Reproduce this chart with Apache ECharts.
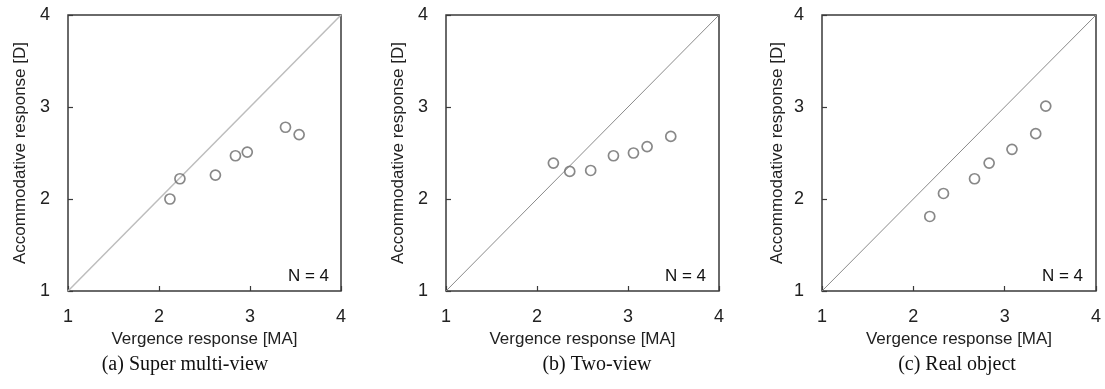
<!DOCTYPE html>
<html>
<head>
<meta charset="utf-8">
<script src="https://cdn.jsdelivr.net/npm/echarts@6/dist/echarts.min.js"></script>
<style>
html,body{margin:0;padding:0;background:#fff;}
#chart{width:1105px;height:389px;}
</style>
</head>
<body>
<div id="chart"></div>
<script>
// ---- data ----
const panelCaptions = ['(a) Super multi-view', '(b) Two-view', '(c) Real object'];
const xAxisTitle = 'Vergence response [MA]';
const yAxisTitle = 'Accommodative response [D]';
const noteText = 'N = 4';
const axisTicks = [1, 2, 3, 4];
const diagonal = [1, 4];

const superMultiViewX = [2.12, 2.23, 2.62, 2.84, 2.97, 3.39, 3.54];
const superMultiViewY = [2.00, 2.22, 2.26, 2.47, 2.51, 2.78, 2.70];

const twoViewX = [2.18, 2.36, 2.59, 2.84, 3.06, 3.21, 3.47];
const twoViewY = [2.39, 2.30, 2.31, 2.47, 2.50, 2.57, 2.68];

const realObjectX = [2.18, 2.33, 2.67, 2.83, 3.08, 3.34, 3.45];
const realObjectY = [1.81, 2.06, 2.22, 2.39, 2.54, 2.71, 3.01];

// ---- layout ----
const panels = [
  {x: superMultiViewX, y: superMultiViewY, left: 68, width: 273, yGap: 39, diagColor: '#bdbdbd', diagWidth: 1.5, capX: 185, noteX: 329},
  {x: twoViewX, y: twoViewY, left: 446, width: 273, yGap: 39, diagColor: '#8a8a8a', diagWidth: 1, capX: 597, noteX: 706},
  {x: realObjectX, y: realObjectY, left: 822, width: 274, yGap: 36, diagColor: '#8a8a8a', diagWidth: 1, capX: 957, noteX: 1083}
];
const TOP = 15, HEIGHT = 276;
const FONT = '"Liberation Sans", Arial, sans-serif';
const SERIF = '"Liberation Serif", "Times New Roman", serif';

const grid = [], xAxis = [], yAxis = [], series = [], graphic = [];
panels.forEach((p, i) => {
  grid.push({left: p.left, top: TOP, width: p.width, height: HEIGHT, show: true,
    borderColor: '#3a3a3a', borderWidth: 1.5, backgroundColor: 'transparent'});
  const axisCommon = {
    gridIndex: i, type: 'value', min: axisTicks[0], max: axisTicks[axisTicks.length - 1], interval: 1,
    splitLine: {show: false},
    axisLine: {show: false},
    axisTick: {show: true, inside: true, length: 5, lineStyle: {color: '#3a3a3a', width: 1.2}},
    axisLabel: {fontSize: 18, color: '#222', fontFamily: FONT},
    nameLocation: 'middle',
    nameTextStyle: {fontSize: 17, color: '#222', fontFamily: FONT}
  };
  xAxis.push(Object.assign({}, axisCommon, {name: xAxisTitle, nameGap: 37,
    axisLabel: Object.assign({}, axisCommon.axisLabel, {margin: 17})}));
  yAxis.push(Object.assign({}, axisCommon, {name: yAxisTitle, nameGap: p.yGap,
    axisLabel: Object.assign({}, axisCommon.axisLabel, {margin: 18})}));
  series.push({
    type: 'line', xAxisIndex: i, yAxisIndex: i, symbol: 'none', silent: true,
    data: [[diagonal[0], diagonal[0]], [diagonal[1], diagonal[1]]],
    lineStyle: {color: p.diagColor, width: p.diagWidth}, z: 1
  });
  series.push({
    type: 'scatter', xAxisIndex: i, yAxisIndex: i, symbol: 'circle', symbolSize: 10,
    data: p.x.map((v, k) => [v, p.y[k]]),
    itemStyle: {color: 'rgba(255,255,255,0)', borderColor: '#6a6a6a', borderWidth: 1.7}, z: 3
  });
  graphic.push({type: 'text', x: p.noteX, y: 276,
    style: {text: noteText, font: '17px ' + FONT, fill: '#111', textAlign: 'right', textVerticalAlign: 'middle'}});
  graphic.push({type: 'text', x: p.capX, y: 365,
    style: {text: panelCaptions[i], font: '20px ' + SERIF, fill: '#111', textAlign: 'center', textVerticalAlign: 'middle'}});
});

const chart = echarts.init(document.getElementById('chart'), null, {renderer: 'canvas'});
chart.setOption({animation: false, backgroundColor: '#fff', grid, xAxis, yAxis, series, graphic});
</script>
</body>
</html>
